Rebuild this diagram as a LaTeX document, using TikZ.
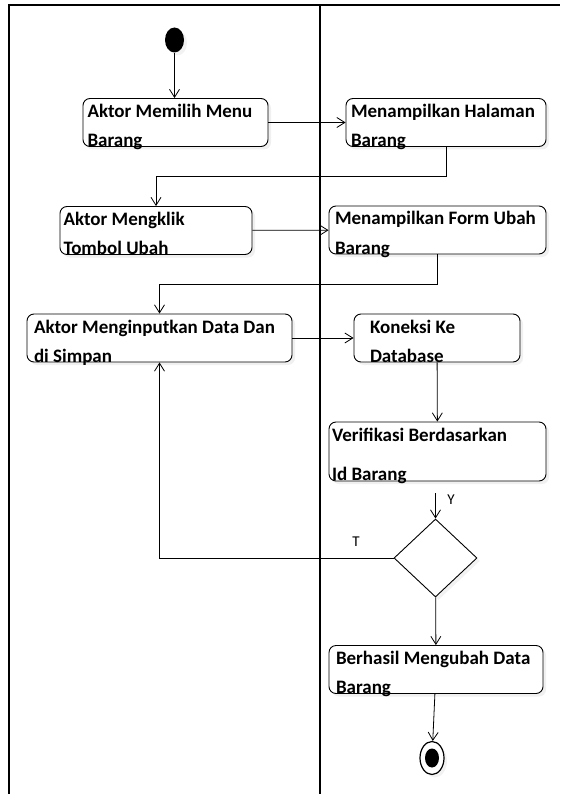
\documentclass[tikz,border=0pt]{standalone}
\usepackage{fontspec}
\setmainfont{Carlito}
\usepackage{tikz}
\usetikzlibrary{arrows.meta,shapes.geometric,shadows}

\begin{document}
\begin{tikzpicture}[x=1pt, y=-1pt,
		act/.style={draw, rounded corners=7pt, fill=white, line width=0.9pt, align=flush left, inner ysep=0pt, minimum height=48pt,
			font=\fontsize{19}{29}\selectfont\bfseries, execute at begin node={\rule{0pt}{19pt}},
			drop shadow={shadow xshift=3pt, shadow yshift=-3pt, opacity=0.12}},
		flow/.style={-{Straight Barb[length=8pt,width=10pt]}, line width=0.8pt},
		lane/.style={line width=2.6pt},
		lbl/.style={font=\fontsize{15}{15}\selectfont}]
	\useasboundingbox (0,0) rectangle (560,794);
	% swimlanes
	\draw[lane] (8,5) -- (560,5);
	\draw[lane] (9,5) -- (9,794);
	\draw[lane] (320,5) -- (320,794);
	% start
	\node[ellipse, fill, inner sep=0pt, minimum width=19pt, minimum height=25pt,
		drop shadow={shadow xshift=3pt, shadow yshift=-3pt, opacity=0.1}] (start) at (174.5,40) {};
	% activities
	\node[act, text width=176pt, inner xsep=4.5pt] (a1) at (175.5,122.5) {Aktor Memilih Menu\\\smash{Barang}};
	\node[act, text width=190pt, inner xsep=5pt] (m1) at (446,122.5) {Menampilkan Halaman\\\smash{Barang}};
	\node[act, text width=185pt, inner xsep=3.5pt, minimum height=47pt] (a2) at (156,230.5) {Aktor Mengklik\\\smash{Tombol Ubah}};
	\node[act, text width=205pt, inner xsep=6pt] (m2) at (437.5,230) {Menampilkan Form Ubah\\\smash{Barang}};
	\node[act, text width=251pt, inner xsep=7pt] (a3) at (159.5,338) {Aktor Menginputkan Data Dan\\\smash{di Simpan}};
	\node[act, text width=134pt, inner xsep=16pt] (m3) at (437,338) {Koneksi Ke\\\smash{Database}};
	\node[act, text width=211pt, inner xsep=3pt, minimum height=59pt] (ver) at (437.5,451.5) {Verifikasi Berdasarkan\\[10pt]\smash{Id Barang}};
	\node[draw, diamond, line width=0.9pt, fill=white, inner sep=0pt, minimum width=83pt, minimum height=78pt,
		drop shadow={shadow xshift=3pt, shadow yshift=-3pt, opacity=0.1}] (cek) at (435.5,558) {};
	\node[act, text width=200pt, inner xsep=7pt, minimum height=47pt] (hasil) at (436,669.5) {Berhasil Mengubah Data\\\smash{Barang}};
	% end
	\node[ellipse, draw, line width=1.2pt, fill=white, inner sep=0pt, minimum width=24pt, minimum height=33pt,
		drop shadow={shadow xshift=3pt, shadow yshift=-3pt, opacity=0.1}] (end) at (432,758) {};
	\node[ellipse, fill, inner sep=0pt, minimum width=14pt, minimum height=19pt] (endin) at (end) {};
	% flows
	\draw[flow] (start) -- (start |- a1.north);
	\draw[flow] (a1) -- (m1);
	\draw[flow] (m1.south) -- ++(0,29) -| (a2.north);
	\draw[flow] (a2) -- (m2);
	\draw[flow] (m2.south) -- ++(0,30) -| (a3.north);
	\draw[flow] (a3) -- (m3);
	\draw[flow] (m3) -- (ver);
	\draw[flow, shorten <=12pt] (cek |- ver.south) -- (cek.north);
	\draw[flow] (cek.west) -| (a3.south);
	\draw[flow] (cek) -- (hasil);
	\draw[flow] (hasil) -- (end);
	\node[lbl] (ya) at (451,500) {Y};
	\node[lbl] (tidak) at (356,542) {T};
\end{tikzpicture}
\end{document}
